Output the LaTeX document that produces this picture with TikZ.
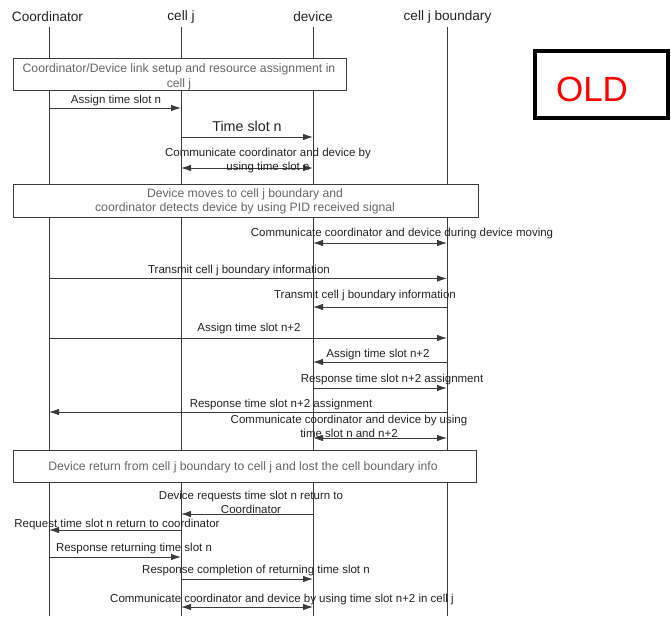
\documentclass[tikz,border=0pt]{standalone}
\usepackage{fontspec}
\setmainfont{Liberation Sans}
\usetikzlibrary{arrows.meta}
\definecolor{linegray}{HTML}{3A3A3A}
\definecolor{boxtext}{HTML}{666666}
\definecolor{lbltext}{HTML}{222222}
\tikzset{
  hdr/.style={inner sep=0pt, text=lbltext, font=\fontsize{13.6}{15}\selectfont},
  life/.style={draw=linegray, line width=0.9pt},
  msg/.style={draw=linegray, line width=0.9pt, -{Latex[length=10pt,width=6.5pt]}},
  bimsg/.style={draw=linegray, line width=0.9pt, {Latex[length=10pt,width=6.5pt]}-{Latex[length=10pt,width=6.5pt]}},
  lbl/.style={inner sep=0pt, yshift=-1.5pt, text=lbltext, align=center, font=\fontsize{11.5}{13.5}\selectfont},
  noteframe/.style={draw=linegray, line width=0.9pt, fill=white},
  notetext/.style={inner sep=0pt, yshift=-1.5pt, text=boxtext, align=center, font=\fontsize{12.2}{14.5}\selectfont},
}
\begin{document}
\begin{tikzpicture}[x=1pt,y=-1pt]
\useasboundingbox (0,0) rectangle (671,616);
% headers
\node[hdr] (hC) at (47.5,17) {Coordinator};
\node[hdr] (hJ) at (181,17) {cell j};
\node[hdr] (hD) at (313,17) {device};
\node[hdr] (hB) at (447.5,17) {cell j boundary};
% lifeline anchors
\coordinate (C) at (49,27);  \coordinate (Cb) at (49,616);
\coordinate (J) at (181,27); \coordinate (Jb) at (181,616);
\coordinate (D) at (313,27); \coordinate (Db) at (313,616);
\coordinate (B) at (447,27); \coordinate (Bb) at (447,616);
\draw[life] (C) -- (Cb);
\draw[life] (J) -- (Jb);
\draw[life] (D) -- (Db);
\draw[life] (B) -- (Bb);
% note 1
\node[noteframe, minimum width=333pt, minimum height=32pt, inner sep=0pt] (n1) at (179.5,74) {};
\node[notetext] (n1t) at (179,75.5) {Coordinator/Device link setup and resource assignment in\\cell j};
% message rows
\coordinate (r1) at (0,108);
\coordinate (r2) at (0,137);
\coordinate (r3) at (0,168);
\coordinate (r4) at (0,243);
\coordinate (r5) at (0,278.5);
\coordinate (r6) at (0,307);
\coordinate (r7) at (0,338);
\coordinate (r8) at (0,362);
\coordinate (r9) at (0,388);
\coordinate (r10) at (0,412);
\coordinate (r11) at (0,438);
\coordinate (r12) at (0,514);
\coordinate (r13) at (0,530);
\coordinate (r14) at (0,557);
\coordinate (r15) at (0,579);
\coordinate (r16) at (0,607);
\draw[msg] (C|-r1) -- (J|-r1);
\node[lbl] (l1) at (116,99) {Assign time slot n};
\draw[msg] (J|-r2) -- (D|-r2);
\node[lbl, font=\fontsize{14.3}{16}\selectfont] (l2) at (247,125) {Time slot n};
\draw[bimsg] (J|-r3) -- (D|-r3);
\node[lbl] (l3) at (268,159) {Communicate coordinator and device by\\using time slot n};
% note 2
\node[noteframe, minimum width=465pt, minimum height=33pt, inner sep=0pt] (n2) at (245.5,200.5) {};
\node[notetext] (n2t) at (245,200) {Device moves to cell j boundary and\\coordinator detects device by using PID received signal};
\draw[bimsg] (D|-r4) -- (B|-r4);
\node[lbl] (l4) at (402,232) {Communicate coordinator and device during device moving};
\draw[msg] (C|-r5) -- (B|-r5);
\node[lbl] (l5) at (239,269) {Transmit cell j boundary information};
\draw[msg] (B|-r6) -- (D|-r6);
\node[lbl] (l6) at (365,294) {Transmit cell j boundary information};
\draw[msg] (C|-r7) -- (B|-r7);
\node[lbl] (l7) at (249,327) {Assign time slot n+2};
\draw[msg] (B|-r8) -- (D|-r8);
\node[lbl] (l8) at (378,353) {Assign time slot n+2};
\draw[msg] (D|-r9) -- (B|-r9);
\node[lbl] (l9) at (392,378) {Response time slot n+2 assignment};
\draw[msg] (B|-r10) -- (C|-r10);
\node[lbl] (l10) at (281,403) {Response time slot n+2 assignment};
\draw[bimsg] (D|-r11) -- (B|-r11);
\node[lbl] (l11) at (349,425) {Communicate coordinator and device by using\\time slot n and n+2};
% note 3
\node[noteframe, minimum width=463pt, minimum height=32pt, inner sep=0pt] (n3) at (244.5,466) {};
\node[notetext] (n3t) at (243,466) {Device return from cell j boundary to cell j and lost the cell boundary info};
\draw[msg] (D|-r12) -- (J|-r12);
\node[lbl] (l12) at (251,501) {Device requests time slot n return to\\Coordinator};
\draw[msg] (J|-r13) -- (C|-r13);
\node[lbl] (l13) at (117,523) {Request time slot n return to coordinator};
\draw[msg] (C|-r14) -- (J|-r14);
\node[lbl] (l14) at (134,547) {Response returning time slot n};
\draw[msg] (J|-r15) -- (D|-r15);
\node[lbl] (l15) at (256,569) {Response completion of returning time slot n};
\draw[bimsg] (J|-r16) -- (D|-r16);
\node[lbl] (l16) at (282,598) {Communicate coordinator and device by using time slot n+2 in cell j};
% OLD stamp
\node[draw=black, line width=4.5pt, minimum width=133pt, minimum height=67pt, inner sep=0pt] (old) at (601.5,84.5) {};
\node[inner sep=0pt, text=red, font=\fontsize{35}{40}\selectfont] (oldt) at (592,89) {OLD};
\end{tikzpicture}
\end{document}
